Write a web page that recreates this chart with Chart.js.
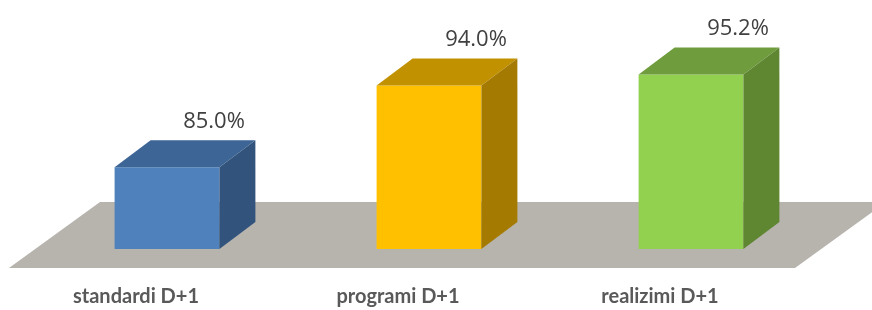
<!DOCTYPE html>
<html>
<head>
<meta charset="utf-8">
<script src="https://cdn.jsdelivr.net/npm/chart.js@4"></script>
<style>
  html, body { margin: 0; padding: 0; background: #fff; }
  #wrap { width: 872px; height: 310px; }
</style>
</head>
<body>
<div id="wrap"><canvas id="myChart" width="872" height="310"></canvas></div>
<script>
const categories = ['standardi D+1', 'programi D+1', 'realizimi D+1'];
const values = [85.0, 94.0, 95.2];
const frontColors = ['#4F81BD', '#FFC000', '#92D050'];
const topColors = ['#3D6595', '#C29100', '#6F9C3D'];
const sideColors = ['#31537C', '#A57A00', '#5F8631'];

// depth of the fake 3d boxes
const DX = 36, DY = 27;

const box3d = {
    id: 'box3d',
    beforeDatasetsDraw(chart) {
        const ctx = chart.ctx;
        const area = chart.chartArea;
        const base = area.bottom;
        // grey floor
        ctx.save();
        ctx.fillStyle = '#B7B4AE';
        ctx.beginPath();
        ctx.moveTo(area.left - 27, base + 19);
        ctx.lineTo(area.right - 27, base + 19);
        ctx.lineTo(area.right + 64, base - 47);
        ctx.lineTo(area.left + 64, base - 47);
        ctx.closePath();
        ctx.fill();
        ctx.restore();
    },
    afterDatasetsDraw(chart) {
        const ctx = chart.ctx;
        const meta = chart.getDatasetMeta(0);
        const bottom = chart.chartArea.bottom;
        ctx.save();
        meta.data.forEach((bar, i) => {
            const x0 = bar.x - bar.width / 2;
            const x1 = bar.x + bar.width / 2;
            const top = bar.y;
            // top face
            ctx.fillStyle = topColors[i];
            ctx.beginPath();
            ctx.moveTo(x0, top);
            ctx.lineTo(x1, top);
            ctx.lineTo(x1 + DX, top - DY);
            ctx.lineTo(x0 + DX, top - DY);
            ctx.closePath();
            ctx.fill();
            // side face
            ctx.fillStyle = sideColors[i];
            ctx.beginPath();
            ctx.moveTo(x1, top);
            ctx.lineTo(x1 + DX, top - DY);
            ctx.lineTo(x1 + DX, bottom - DY);
            ctx.lineTo(x1, bottom);
            ctx.closePath();
            ctx.fill();
            // value label
            ctx.fillStyle = '#404040';
            ctx.font = '22px "Open Sans", sans-serif';
            ctx.textAlign = 'center';
            ctx.textBaseline = 'middle';
            ctx.fillText(values[i].toFixed(1) + '%', bar.x + 47, top - DY - 19);
        });
        ctx.restore();
    }
};

const ctx = document.getElementById('myChart').getContext('2d');
const barChart = new Chart(ctx, {
    type: 'bar',
    data: {
        labels: categories,
        datasets: [{
            data: values,
            backgroundColor: frontColors,
            borderWidth: 0,
            barPercentage: 0.8,
            categoryPercentage: 0.5
        }]
    },
    options: {
        responsive: false,
        animation: false,
        layout: {
            padding: { left: 36, right: 50, top: 31, bottom: 0 }
        },
        plugins: {
            legend: { display: false },
            tooltip: { enabled: false }
        },
        scales: {
            x: {
                grid: { display: false, drawTicks: false },
                border: { display: false },
                ticks: {
                    color: '#595959',
                    padding: 36,
                    labelOffset: -31,
                    maxRotation: 0,
                    font: { family: 'Lato, "Open Sans", sans-serif', size: 20, weight: 'bold' }
                },
                afterFit(scale) { scale.height = 61; }
            },
            y: {
                display: false,
                min: 76,
                max: 100
            }
        }
    },
    plugins: [box3d]
});
</script>
</body>
</html>
